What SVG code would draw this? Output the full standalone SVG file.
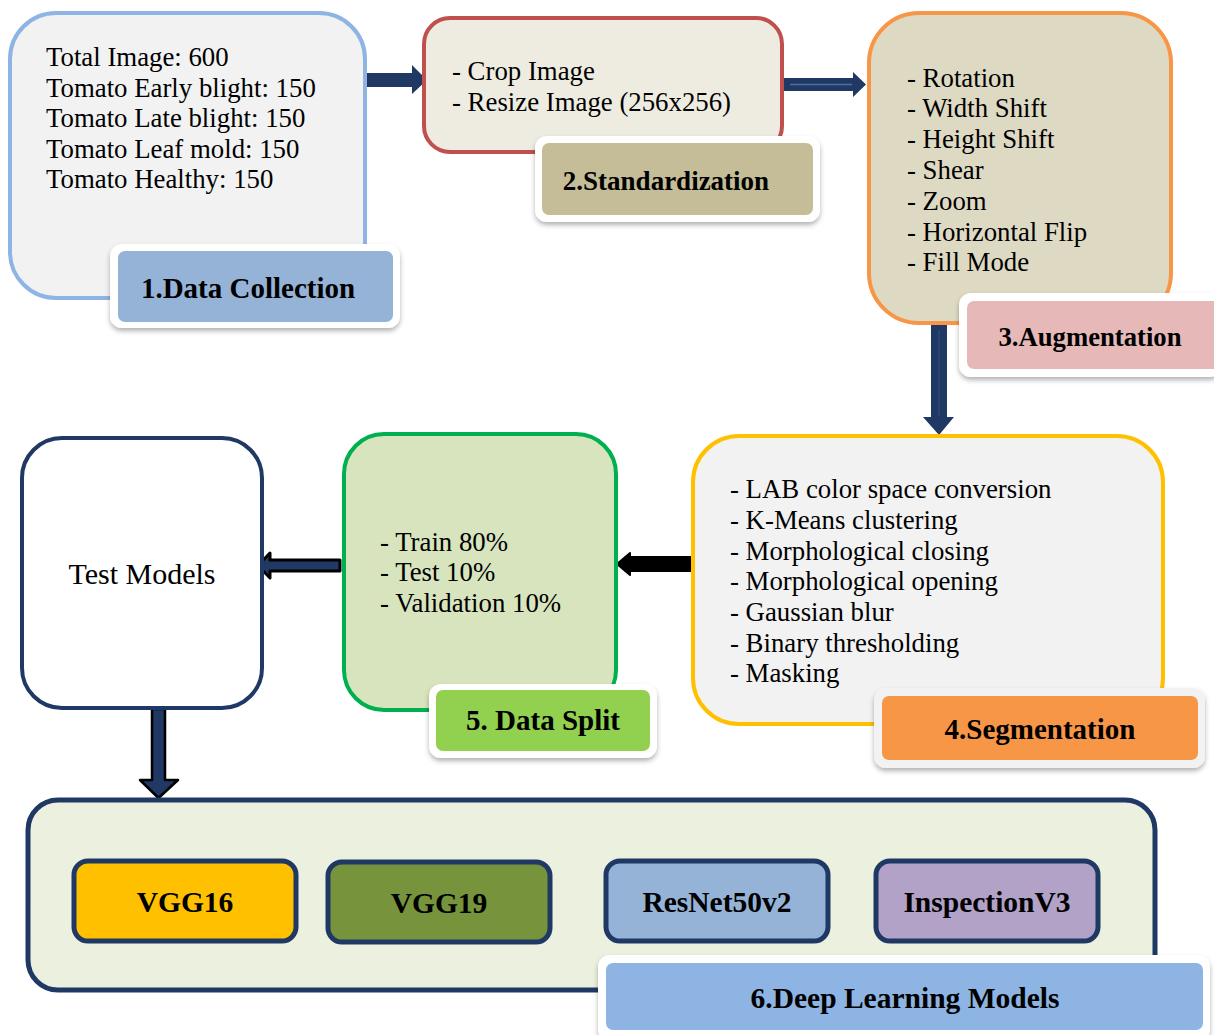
<svg xmlns="http://www.w3.org/2000/svg" width="1214" height="1035" viewBox="0 0 1214 1035">
<defs>
<filter id="sh" x="-10%" y="-20%" width="120%" height="150%">
<feDropShadow dx="0" dy="3" stdDeviation="2.5" flood-color="#000" flood-opacity="0.3"/>
</filter>
</defs>
<style>
.t{font-family:"Liberation Serif","Times New Roman",serif;font-size:26.8px;fill:#000}
.b{font-family:"Liberation Serif","Times New Roman",serif;font-size:29px;font-weight:bold;fill:#000;text-anchor:middle}
.m{font-family:"Liberation Serif","Times New Roman",serif;font-size:29.5px;font-weight:bold;fill:#000;text-anchor:middle}
.lo{fill:#fff;filter:url(#sh)}
.mb{stroke:#1F3864;stroke-width:5}
</style>
<rect width="1214" height="1035" fill="#fff"/>

<g id="connectors">
<polygon points="367,73 412,73 412,65 427,80 412,94 412,87 367,87" fill="#1F3864"/>
<polygon points="782,78 853,78 853,72 866,84.5 853,97 853,91 782,91" fill="#1F3864"/>
<line x1="790" y1="84.5" x2="852" y2="84.5" stroke="#4F6FA0" stroke-width="1.5"/>
<polygon points="931,323 947,323 947,417 954,417 939,435 923,417 931,417" fill="#1F3864"/>
<line x1="939" y1="330" x2="939" y2="416" stroke="#2E4A78" stroke-width="1.5"/>
<path d="M692,557 L630,557 L630,553 L617,564 L630,575 L630,571 L692,571 Z" fill="#000" stroke="#000" stroke-width="2" stroke-linejoin="round"/>
<path d="M340,560 L270,560 L270,553 L258,565.5 L270,578 L270,571 L340,571 Z" fill="#1F3864" stroke="#000" stroke-width="3" stroke-linejoin="round"/>
<path d="M152,709 L165,709 L165,780 L178,780 L158.5,798 L140,780 L152,780 Z" fill="#1F3864" stroke="#000" stroke-width="2.5" stroke-linejoin="round"/>
</g>

<g id="n1">
<rect x="10" y="13" width="355" height="285" rx="46" fill="#F2F2F2" stroke="#8EB4E3" stroke-width="4"/>
<text class="t" x="46" y="66">Total Image: 600</text>
<text class="t" x="46" y="97">Tomato Early blight: 150</text>
<text class="t" x="46" y="127">Tomato Late blight: 150</text>
<text class="t" x="46" y="158">Tomato Leaf mold: 150</text>
<text class="t" x="46" y="188">Tomato Healthy: 150</text>
<rect class="lo" x="110" y="244" width="290" height="84" rx="12"/>
<rect x="118" y="251" width="275" height="71" rx="7" fill="#95B3D7"/>
<text class="b" x="248" y="298">1.Data Collection</text>
</g>

<g id="n2">
<rect x="424" y="18" width="358" height="134" rx="26" fill="#EEECE1" stroke="#C0504D" stroke-width="4"/>
<text class="t" x="452" y="80">- Crop Image</text>
<text class="t" x="452" y="111">- Resize Image (256x256)</text>
<rect class="lo" x="535" y="136" width="285" height="86" rx="12"/>
<rect x="542" y="143" width="271" height="72" rx="7" fill="#C4BD97"/>
<text class="b" x="666" y="190" style="font-size:27px">2.Standardization</text>
</g>

<g id="n3">
<rect x="869" y="13" width="302" height="310" rx="50" fill="#DDD9C3" stroke="#F79646" stroke-width="4"/>
<text class="t" x="907" y="87">- Rotation</text>
<text class="t" x="907" y="117">- Width Shift</text>
<text class="t" x="907" y="148">- Height Shift</text>
<text class="t" x="907" y="179">- Shear</text>
<text class="t" x="907" y="210">- Zoom</text>
<text class="t" x="907" y="241">- Horizontal Flip</text>
<text class="t" x="907" y="271">- Fill Mode</text>
<rect class="lo" x="959" y="293" width="262" height="84" rx="12"/>
<rect x="967" y="301" width="254" height="68" rx="7" fill="#E6B9B8"/>
<text class="b" x="1090" y="346" style="font-size:26.7px">3.Augmentation</text>
</g>

<g id="n4">
<rect x="693" y="436" width="470" height="288" rx="46" fill="#F2F2F2" stroke="#FFC000" stroke-width="4"/>
<text class="t" x="730" y="498">- LAB color space conversion</text>
<text class="t" x="730" y="529">- K-Means clustering</text>
<text class="t" x="730" y="560">- Morphological closing</text>
<text class="t" x="730" y="590">- Morphological opening</text>
<text class="t" x="730" y="621">- Gaussian blur</text>
<text class="t" x="730" y="652">- Binary thresholding</text>
<text class="t" x="730" y="682">- Masking</text>
<rect class="lo" x="874" y="688" width="331" height="80" rx="12" style="fill:#F2F2F2"/>
<rect x="882" y="696" width="316" height="64" rx="7" fill="#F79646"/>
<text class="b" x="1040" y="739">4.Segmentation</text>
</g>

<g id="n5">
<rect x="344" y="434" width="272" height="276" rx="40" fill="#D7E4BD" stroke="#00B050" stroke-width="4"/>
<text class="t" x="380" y="551">- Train 80%</text>
<text class="t" x="380" y="581">- Test 10%</text>
<text class="t" x="380" y="612">- Validation 10%</text>
<rect class="lo" x="429" y="684" width="228" height="74" rx="12"/>
<rect x="436" y="690" width="214" height="61" rx="7" fill="#92D050"/>
<text class="b" x="543" y="730">5. Data Split</text>
</g>

<g id="test">
<rect x="22" y="438" width="240" height="270" rx="40" fill="#fff" stroke="#1F3864" stroke-width="4"/>
<text class="t" x="142" y="584" text-anchor="middle" style="font-size:30px">Test Models</text>
</g>

<g id="n6">
<rect x="28" y="800" width="1127" height="190" rx="30" fill="#EBF1DE" stroke="#1F3864" stroke-width="5"/>
<g id="vgg16">
<rect class="mb" x="74" y="861" width="222" height="80" rx="14" fill="#FFC000"/>
<text class="m" x="185" y="912">VGG16</text>
</g>
<g id="vgg19">
<rect class="mb" x="328" y="862" width="222" height="80" rx="14" fill="#77933C"/>
<text class="m" x="439" y="913">VGG19</text>
</g>
<g id="resnet">
<rect class="mb" x="606" y="861" width="222" height="80" rx="14" fill="#95B3D7"/>
<text class="m" x="717" y="912">ResNet50v2</text>
</g>
<g id="inception">
<rect class="mb" x="876" y="861" width="222" height="80" rx="14" fill="#B2A2C7"/>
<text class="m" x="987" y="912">InspectionV3</text>
</g>
<rect class="lo" x="598" y="955" width="612" height="86" rx="12"/>
<rect x="606" y="963" width="597" height="67" rx="7" fill="#8EB4E3"/>
<text class="m" x="905" y="1008">6.Deep Learning Models</text>
</g>
</svg>
